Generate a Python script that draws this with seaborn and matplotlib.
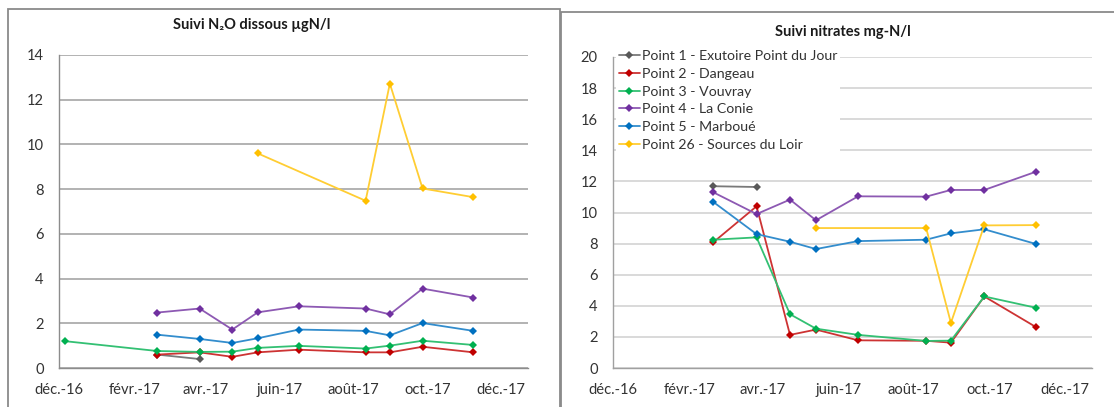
import numpy as np
import pandas as pd
import matplotlib
matplotlib.use("Agg")
import matplotlib.pyplot as plt
import matplotlib.colors as mcolors
from matplotlib.patches import Rectangle
import seaborn as sns

nan = np.nan

# sampling dates shared by both charts
dates = ["2016-12-06", "2017-02-20", "2017-03-27", "2017-04-23", "2017-05-14",
         "2017-06-17", "2017-08-11", "2017-08-31", "2017-09-27", "2017-11-08"]

points = ["Point 1 - Exutoire Point du Jour", "Point 2 - Dangeau",
          "Point 3 - Vouvray", "Point 4 - La Conie", "Point 5 - Marboué",
          "Point 26 - Sources du Loir"]
colors = ["#595959", "#C00000", "#00B050", "#7030A0", "#0070C0", "#FFC000"]

# N2O dissous (µgN/l)
n2o_p1 = [nan, 0.60, 0.40, nan, nan, nan, nan, nan, nan, nan]
n2o_p2 = [nan, 0.60, 0.70, 0.50, 0.70, 0.82, 0.70, 0.70, 0.95, 0.70]
n2o_p3 = [1.20, 0.76, 0.72, 0.73, 0.90, 0.99, 0.87, 1.00, 1.22, 1.03]
n2o_p4 = [nan, 2.48, 2.66, 1.72, 2.49, 2.76, 2.66, 2.40, 3.55, 3.15]
n2o_p5 = [nan, 1.49, 1.30, 1.12, 1.33, 1.72, 1.66, 1.46, 2.01, 1.66]
n2o_p26 = [nan, nan, nan, nan, 9.60, nan, 7.48, 12.72, 8.03, 7.64]

# nitrates (mg-N/l)
no3_p1 = [nan, 11.69, 11.64, nan, nan, nan, nan, nan, nan, nan]
no3_p2 = [nan, 8.08, 10.40, 2.13, 2.47, 1.78, 1.75, 1.63, 4.60, 2.62]
no3_p3 = [nan, 8.25, 8.40, 3.46, 2.53, 2.13, 1.74, 1.76, 4.60, 3.87]
no3_p4 = [nan, 11.30, 9.90, 10.83, 9.50, 11.04, 11.02, 11.45, 11.45, 12.63]
no3_p5 = [nan, 10.68, 8.61, 8.12, 7.65, 8.16, 8.25, 8.66, 8.92, 7.97]
no3_p26 = [nan, nan, nan, nan, 9.00, nan, 9.00, 2.90, 9.17, 9.19]

tick_dates = ["2016-12-01", "2017-02-01", "2017-04-01", "2017-06-01",
              "2017-08-01", "2017-10-01", "2017-12-01"]
tick_labels = ["déc.-16", "févr.-17", "avr.-17", "juin-17", "août-17",
               "oct.-17", "déc.-17"]

sns.set_theme(style="white")
plt.rcParams["font.family"] = ["Lato", "DejaVu Sans"]
TXT = "#333333"


def long_df(series):
    rows = []
    for name, vals in zip(points, series):
        for d, v in zip(dates, vals):
            if not np.isnan(v):
                rows.append({"date": pd.Timestamp(d), "val": v, "point": name})
    return pd.DataFrame(rows)


def lighten(c, f=0.25):
    r, g, b = mcolors.to_rgb(c)
    return (r + (1 - r) * f, g + (1 - g) * f, b + (1 - b) * f)


def draw(ax, series, ymax, grid_col, spine_col):
    df = long_df(series)
    sns.lineplot(data=df, x="date", y="val", hue="point", hue_order=points,
                 palette=colors, marker="D", markersize=4.2,
                 markeredgewidth=0, linewidth=1.3, estimator=None,
                 sort=True, ax=ax, legend=True)
    for ln in ax.lines:
        c = ln.get_color()
        ln.set_markerfacecolor(c)
        ln.set_markeredgecolor(c)
        ln.set_color(lighten(c, 0.2))
    ax.set_xlim(pd.Timestamp("2016-12-01"), pd.Timestamp("2017-12-23"))
    ax.set_ylim(0, ymax)
    ax.set_yticks(np.arange(0, ymax + 1, 2))
    ax.set_xticks([pd.Timestamp(t) for t in tick_dates])
    ax.set_xticklabels(tick_labels)
    ax.set_xlabel("")
    ax.set_ylabel("")
    ax.yaxis.grid(True, color=grid_col, lw=1.1)
    ax.set_axisbelow(True)
    for s in ["top", "right"]:
        ax.spines[s].set_visible(False)
    for s in ["left", "bottom"]:
        ax.spines[s].set_color(spine_col)
        ax.spines[s].set_linewidth(1.0)
    ax.tick_params(axis="both", which="major", direction="out", length=5,
                   width=1, color=spine_col, labelsize=10.6, labelcolor=TXT)
    ax.tick_params(axis="x", pad=5.5)
    ax.tick_params(axis="y", pad=6)
    ax.set_facecolor("white")


fig = plt.figure(figsize=(11.14, 4.07), dpi=100)
W, H = 1114, 407

ax1 = fig.add_axes([59 / W, 1 - 368 / H, (528 - 59) / W, (368 - 55) / H])
ax2 = fig.add_axes([613 / W, 1 - 368 / H, (1092 - 613) / W, (368 - 57) / H])

draw(ax1, [n2o_p1, n2o_p2, n2o_p3, n2o_p4, n2o_p5, n2o_p26], 14,
     "#9E9E9E", "#8C8C8C")
draw(ax2, [no3_p1, no3_p2, no3_p3, no3_p4, no3_p5, no3_p26], 20,
     "#CFCFCF", "#A0A0A0")

ax1.get_legend().remove()
handles, labels = ax2.get_legend_handles_labels()
leg = ax2.legend(handles, labels, loc="upper left",
                 bbox_to_anchor=(0.0, 1.04), frameon=True, fontsize=10.2,
                 handlelength=1.5, handletextpad=0.15, labelspacing=0.4,
                 borderpad=0.2, borderaxespad=0.2, fancybox=False)
leg.get_frame().set_facecolor("white")
leg.get_frame().set_edgecolor("none")
leg.get_frame().set_alpha(1)
for t in leg.get_texts():
    t.set_color(TXT)

# titles
fig.text(252 / W, 1 - 25 / H, "Suivi N₂O dissous µgN/l", ha="center",
         va="center", fontsize=10.5, fontweight="bold", color="#1a1a1a")
fig.text(843 / W, 1 - 32 / H, "Suivi nitrates mg-N/l", ha="center",
         va="center", fontsize=10.5, fontweight="bold", color="#1a1a1a")

# panel borders
fig.patches.append(Rectangle((8 / W, -0.02), (560 - 8) / W, 1 - 9 / H + 0.02,
                             transform=fig.transFigure, fill=False,
                             edgecolor="#8A8A8A", lw=1.3))
fig.patches.append(Rectangle((561 / W, -0.02), (1120 - 561) / W,
                             1 - 12 / H + 0.02, transform=fig.transFigure,
                             fill=False, edgecolor="#8A8A8A", lw=1.3))

fig.savefig("out.png", dpi=100, facecolor="white")
